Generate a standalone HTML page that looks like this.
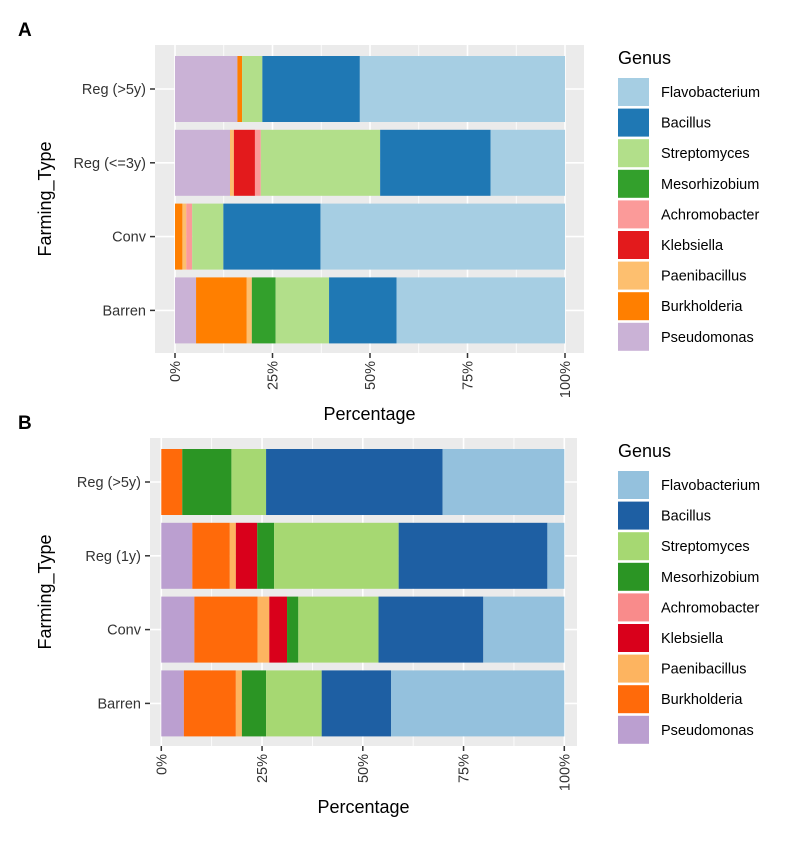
<!DOCTYPE html>
<html><head><meta charset="utf-8"><style>
body{margin:0;background:#fff;}
svg{display:block;font-family:"Liberation Sans",Arial,sans-serif;}
</style></head><body>
<svg id="chart" width="800" height="846" viewBox="0 0 800 846"></svg>
<script>
const genera = ["Pseudomonas","Burkholderia","Paenibacillus","Klebsiella","Achromobacter","Mesorhizobium","Streptomyces","Bacillus","Flavobacterium"];
const legendOrder = ["Flavobacterium","Bacillus","Streptomyces","Mesorhizobium","Achromobacter","Klebsiella","Paenibacillus","Burkholderia","Pseudomonas"];
const tickLabels = ["0%","25%","50%","75%","100%"];
const tickValues = [0,25,50,75,100];
const categoriesA = ["Reg (>5y)","Reg (<=3y)","Conv","Barren"];
const categoriesB = ["Reg (>5y)","Reg (1y)","Conv","Barren"];
// values per category, order of genera array
const valuesA = [
  [16,1.2,0,0,0,0,5.2,25,52.6],
  [14.1,0,1,5.4,1.5,0,30.6,28.3,19.1],
  [0,1.9,1,0,1.5,0,8,24.9,62.7],
  [5.4,13,1.3,0,0,6.1,13.7,17.3,43.2]
];
const valuesB = [
  [0,5.2,0,0,0,12.2,8.6,43.8,30.2],
  [7.7,9.3,1.5,5.3,0,4.2,30.9,36.9,4.2],
  [8.2,15.7,2.9,4.4,0,2.8,19.9,26,20.1],
  [5.6,12.9,1.5,0,0,6,13.8,17.2,43]
];
const colorsA = {Flavobacterium:"#a6cee3",Bacillus:"#1f78b4",Streptomyces:"#b2df8a",Mesorhizobium:"#33a02c",Achromobacter:"#fb9a99",Klebsiella:"#e31a1c",Paenibacillus:"#fdbf6f",Burkholderia:"#ff7f00",Pseudomonas:"#cab2d6"};
const colorsB = {Flavobacterium:"#94c1dd",Bacillus:"#1e5fa3",Streptomyces:"#a6d872",Mesorhizobium:"#2b9524",Achromobacter:"#f98b8b",Klebsiella:"#d9001b",Paenibacillus:"#fdb460",Burkholderia:"#ff6a0a",Pseudomonas:"#bb9fd0"};

const NS="http://www.w3.org/2000/svg";
const svg=document.getElementById('chart');
function mk(tag,attrs,parent,text){const e=document.createElementNS(NS,tag);for(const k in attrs)e.setAttribute(k,attrs[k]);if(text!==undefined)e.textContent=text;(parent||svg).appendChild(e);return e;}

function panel(opt){
  const g=mk('g',{});
  
  
  const oy=opt.oy;
  const x=v=>opt.x0+(opt.x1-opt.x0)*v/100;
  const bgTop=45+oy,bgBot=353+oy;
  const bg=mk('rect',{x:opt.bgL,y:bgTop,width:opt.bgR-opt.bgL,height:bgBot-bgTop,fill:'#ebebeb'},g);
  
  
  for(let v=0;v<=100;v+=12.5){
    mk('line',{x1:x(v),x2:x(v),y1:bgTop,y2:bgBot,stroke:'#fff','stroke-width':v%25===0?1.6:0.8},g);
  }
  const barH=66,step=73.8,top0=56+oy;
  const yc=i=>top0+i*step+barH/2;
  opt.cats.forEach((c,i)=>{mk('line',{x1:opt.bgL,x2:opt.bgR,y1:yc(i),y2:yc(i),stroke:'#fff','stroke-width':1.6},g);});
  opt.cats.forEach((c,i)=>{
    let acc=0;
    opt.vals[i].forEach((v,j)=>{
      if(v<=0)return;
      const r=mk('rect',{x:x(acc),y:top0+i*step,width:x(acc+v)-x(acc),height:barH,fill:opt.colors[genera[j]]},g);
      
      
      acc+=v;
    });
    const t=mk('text',{x:opt.bgL-9,y:yc(i)+5,'text-anchor':'end','font-size':14.5,fill:'#333'},g,c);
    
    
    mk('line',{x1:opt.bgL-5,x2:opt.bgL,y1:yc(i),y2:yc(i),stroke:'#333','stroke-width':1.5},g);
  });
  tickValues.forEach((v,k)=>{
    mk('line',{x1:x(v),x2:x(v),y1:bgBot,y2:bgBot+5,stroke:'#333','stroke-width':1.5},g);
    const t=mk('text',{x:0,y:0,'text-anchor':'end','font-size':14.5,fill:'#333',transform:`translate(${x(v)+5},${bgBot+8}) rotate(-90)`},g,tickLabels[k]);
    
    
  });
  const xt=mk('text',{x:(opt.bgL+opt.bgR)/2,y:420+oy,'text-anchor':'middle','font-size':18,fill:'#000'},g,'Percentage');
  
  
  const yt=mk('text',{x:0,y:0,'text-anchor':'middle','font-size':18,fill:'#000',transform:`translate(51,${199+oy}) rotate(-90)`},g,'Farming_Type');
  
  
  const lt=mk('text',{x:18,y:36+oy,'font-size':19,'font-weight':'bold',fill:'#000'},g,opt.letter);
  
  
  const leg=mk('g',{},g);
  
  
  mk('text',{x:618,y:64+oy,'font-size':18,fill:'#000'},leg,'Genus');
  legendOrder.forEach((n,k)=>{
    const ky=78+oy+k*30.6;
    const e=mk('g',{},leg);
    
    
    mk('rect',{x:618,y:ky,width:31,height:28,fill:opt.colors[n]},e);
    mk('text',{x:661,y:ky+19,'font-size':14.5,fill:'#000'},e,n);
  });
}
panel({letter:'A',oy:0,x0:175,x1:565,bgL:155,bgR:584,cats:categoriesA,vals:valuesA,colors:colorsA});
panel({letter:'B',oy:393,x0:161.3,x1:564.3,bgL:150,bgR:577,cats:categoriesB,vals:valuesB,colors:colorsB});
</script>
</body></html>
